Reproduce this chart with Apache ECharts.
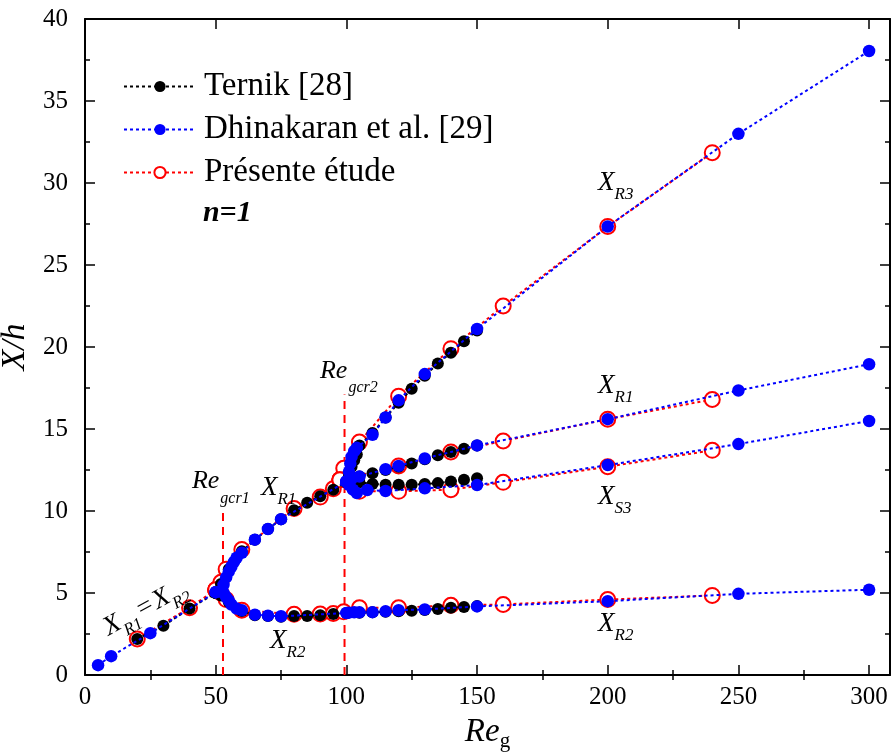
<!DOCTYPE html>
<html><head><meta charset="utf-8">
<script src="https://cdn.jsdelivr.net/npm/echarts@6/dist/echarts.min.js"></script>
<style>html,body{margin:0;padding:0;background:#fff}#c{width:896px;height:753px}</style>
</head><body><div id="c"></div>
<script>
// ---------- tick labels ----------
const X_MAJOR = [0, 50, 100, 150, 200, 250, 300];
const X_MINOR = [25, 75, 125, 175, 225, 275];

// ---------- Ternik [28] (black) ----------
const T_R12_RE = [20, 30, 40, 50];
const T_R12    = [2.2, 3.0, 4.05, 5.0];
const T_UP_RE  = [50, 52, 55, 60, 65, 70, 75, 80, 85, 90, 95, 100, 101, 102, 103, 104, 105, 110, 115, 120, 125, 130, 135, 140, 145, 150];
const T_UP     = [5.0, 5.55, 6.45, 7.55, 8.25, 8.9, 9.5, 10.05, 10.5, 10.9, 11.3, 11.75, 12.2, 12.7, 13.1, 13.45, 14.0, 14.75, 15.7, 16.6, 17.45, 18.25, 19.0, 19.65, 20.35, 21.0];
const T_MID_RE = [100, 101, 105, 110, 115, 120, 125, 130, 135, 140, 145, 150];
const T_MID    = [11.75, 11.95, 12.1, 12.3, 12.5, 12.7, 12.9, 13.15, 13.4, 13.6, 13.8, 14.0];
const T_S3_RE  = [100, 102, 105, 110, 115, 120, 125, 130, 135, 140, 145, 150];
const T_S3     = [11.75, 11.85, 11.75, 11.65, 11.6, 11.6, 11.6, 11.65, 11.7, 11.8, 11.9, 12.0];
const T_R2_RE  = [50, 52, 55, 60, 65, 70, 75, 80, 85, 90, 95, 100, 105, 110, 115, 120, 125, 130, 135, 140, 145, 150];
const T_R2     = [5.0, 4.85, 4.45, 3.9, 3.65, 3.6, 3.55, 3.6, 3.6, 3.65, 3.72, 3.78, 3.8, 3.82, 3.85, 3.88, 3.92, 3.97, 4.03, 4.1, 4.15, 4.2];

// ---------- Dhinakaran et al. [29] (blue) ----------
const D_R12_RE = [5, 10, 25, 50];
const D_R12    = [0.6, 1.15, 2.55, 5.05];
const D_UP_RE  = [50, 53, 54, 55, 56, 57, 58, 60, 65, 70, 75, 100, 101, 101.5, 102, 103, 104, 110, 115, 120, 130, 150, 200, 250, 300];
const D_UP     = [5.05, 5.5, 5.95, 6.3, 6.6, 6.9, 7.15, 7.45, 8.25, 8.9, 9.5, 11.8, 12.4, 12.9, 13.3, 13.65, 13.85, 14.65, 15.7, 16.75, 18.35, 21.1, 27.35, 33.0, 38.05];
const D_MID_RE = [100, 102, 105, 115, 120, 130, 150, 200, 250, 300];
const D_MID    = [11.8, 11.95, 12.1, 12.55, 12.75, 13.2, 14.0, 15.6, 17.35, 18.95];
const D_S3_RE  = [100, 101, 102.5, 104, 108, 115, 130, 150, 200, 250, 300];
const D_S3     = [11.8, 11.6, 11.3, 11.1, 11.28, 11.22, 11.38, 11.58, 12.8, 14.08, 15.49];
const D_R2_RE  = [50, 53, 54, 55, 56, 58, 60, 65, 70, 75, 100, 101, 103, 105, 110, 115, 120, 130, 150, 200, 250, 300];
const D_R2     = [5.05, 5.0, 4.75, 4.55, 4.3, 4.05, 3.95, 3.68, 3.62, 3.58, 3.78, 3.8, 3.82, 3.82, 3.83, 3.88, 3.95, 4.0, 4.18, 4.5, 4.95, 5.2];

// ---------- Présente étude (red) ----------
const R_R12_RE = [20, 40, 50];
const R_R12    = [2.2, 4.1, 5.2];
const R_UP_RE  = [50, 52, 54, 60, 80, 90, 95, 97.5, 99, 105, 120, 140, 160, 200, 240];
const R_UP     = [5.2, 5.65, 6.45, 7.65, 10.15, 10.85, 11.35, 11.9, 12.6, 14.2, 17.0, 19.9, 22.5, 27.35, 31.85];
const R_MID_RE = [97.5, 120, 140, 160, 200, 240];
const R_MID    = [11.9, 12.75, 13.6, 14.27, 15.6, 16.8];
const R_S3_RE  = [97.5, 105, 120, 140, 160, 200, 240];
const R_S3     = [11.9, 11.2, 11.2, 11.3, 11.75, 12.7, 13.7];
const R_R2_RE  = [50, 52, 54, 60, 80, 90, 95, 99, 105, 120, 140, 160, 200, 240];
const R_R2     = [5.2, 5.0, 4.6, 3.95, 3.7, 3.72, 3.75, 3.85, 4.1, 4.1, 4.25, 4.3, 4.6, 4.85];

// ---------- critical Reynolds numbers (dashed) ----------
const GCR_RE  = [52.8, 99.3];
const GCR_TOP = [10.2, 17.1];

const FONT = '"Liberation Serif", "Times New Roman", serif';
const pts = (re, x) => re.map((r, i) => [r, x[i]]);

const STY = {
  T: { name: 'Ternik [28]', color: '#000000', fill: '#000000', size: 12, z: 3, bw: 0 },
  D: { name: 'Dhinakaran et al. [29]', color: '#0000ff', fill: '#0000ff', size: 12.5, z: 4, bw: 0 },
  R: { name: 'Présente étude', color: '#ff0000', fill: '#ffffff', size: 15, z: 2, bw: 2 }
};
function branch(key, re, x) {
  const s = STY[key];
  return {
    type: 'line', name: s.name, data: pts(re, x), symbol: 'circle', symbolSize: s.size,
    showAllSymbol: true, z: s.z, animation: false, emphasis: { disabled: true },
    lineStyle: { color: s.color, width: 2, type: [3, 3] },
    itemStyle: { color: s.fill, borderColor: s.color, borderWidth: s.bw }
  };
}
const series = [
  ...GCR_RE.map((g, i) => ({
    type: 'line', name: 'gcr' + i, data: [[g, 0], [g, GCR_TOP[i]]], symbol: 'none', z: 1,
    silent: true, animation: false, lineStyle: { color: '#ff0000', width: 2, type: [8, 6] }
  })),
  branch('R', R_R12_RE, R_R12), branch('R', R_UP_RE, R_UP), branch('R', R_MID_RE, R_MID),
  branch('R', R_S3_RE, R_S3), branch('R', R_R2_RE, R_R2),
  branch('T', T_R12_RE, T_R12), branch('T', T_UP_RE, T_UP), branch('T', T_MID_RE, T_MID),
  branch('T', T_S3_RE, T_S3), branch('T', T_R2_RE, T_R2),
  branch('D', D_R12_RE, D_R12), branch('D', D_UP_RE, D_UP), branch('D', D_MID_RE, D_MID),
  branch('D', D_S3_RE, D_S3), branch('D', D_R2_RE, D_R2)
];

const AX_LINE = { show: true, onZero: false, lineStyle: { color: '#000', width: 2 } };
const TICK_LS = { color: '#000', width: 1.5 };
function xAx(pos, vals, len, line, label) {
  return {
    type: 'value', min: 0, max: 308, interval: 50, position: pos,
    axisLine: line ? AX_LINE : { show: false },
    axisTick: { show: true, inside: true, length: len, customValues: vals, lineStyle: TICK_LS },
    axisLabel: label ? { show: true, customValues: vals, fontSize: 25, fontFamily: FONT, color: '#000', margin: 10 } : { show: false },
    splitLine: { show: false }
  };
}
const xAxes = [
  Object.assign(xAx('bottom', X_MAJOR, 10, true, true), {
    name: '{a|Re}{b|g}', nameLocation: 'middle', nameGap: 37,
    nameTextStyle: { rich: {
      a: { fontSize: 33, fontStyle: 'italic', fontFamily: FONT, color: '#000', lineHeight: 40 },
      b: { fontSize: 21, fontFamily: FONT, color: '#000', lineHeight: 20, verticalAlign: 'bottom' }
    } }
  }),
  xAx('bottom', X_MINOR, 5, false, false),
  xAx('top', X_MAJOR, 10, true, false),
  xAx('top', X_MINOR, 5, false, false)
];
function yAx(pos, label) {
  return {
    type: 'value', min: 0, max: 40, interval: 5, position: pos,
    axisLine: AX_LINE,
    axisTick: { show: true, inside: true, length: 10, lineStyle: TICK_LS },
    minorTick: { show: true, splitNumber: 2, length: 5, lineStyle: TICK_LS },
    axisLabel: label ? { fontSize: 25, fontFamily: FONT, color: '#000', margin: 17 } : { show: false },
    splitLine: { show: false }, minorSplitLine: { show: false }
  };
}
const yAxes = [
  Object.assign(yAx('left', true), {
    name: 'X/h', nameLocation: 'middle', nameGap: 38, nameRotate: 90,
    nameTextStyle: { fontSize: 34, fontStyle: 'italic', fontFamily: FONT, color: '#000' }
  }),
  yAx('right', false)
];
series.forEach(s => { s.xAxisIndex = 0; s.yAxisIndex = 0; });

const chart = echarts.init(document.getElementById('c'), null, { renderer: 'canvas' });
chart.setOption({
  backgroundColor: '#fff',
  animation: false,
  grid: { left: 85, right: 6, top: 19, bottom: 78, containLabel: false, outerBoundsMode: 'none' },
  xAxis: xAxes,
  yAxis: yAxes,
  legend: {
    data: [STY.T.name, STY.D.name, STY.R.name],
    orient: 'vertical', left: 118, top: 65, itemWidth: 72, itemHeight: 14, itemGap: 10,
    selectedMode: false,
    textStyle: { fontSize: 33, fontFamily: FONT, color: '#000', padding: [0, 0, 0, 3] }
  },
  series: series
});

// ---------- annotations (anchored in data coordinates) ----------
const ANNOT = [
  { m: 'X', s: 'R3', re: 196.3, x: 30.0 },
  { m: 'X', s: 'R1', re: 196.3, x: 17.6 },
  { m: 'X', s: 'S3', re: 196.3, x: 10.85 },
  { m: 'X', s: 'R2', re: 196.3, x: 3.1 },
  { m: 'X', s: 'R2', re: 70.8, x: 2.05 },
  { m: 'X', s: 'R1', re: 67.3, x: 11.4 }
];
const RE_ANNOT = [
  { s: 'gcr1', re: 40.9, x: 11.8 },
  { s: 'gcr2', re: 89.9, x: 18.55 }
];
const toPx = (re, x) => chart.convertToPixel({ seriesIndex: 0 }, [re, x]);
const richX = {
  m: { fontSize: 27, fontStyle: 'italic', fontFamily: FONT, fill: '#000', lineHeight: 40 },
  s: { fontSize: 17, fontStyle: 'italic', fontFamily: FONT, fill: '#000', lineHeight: 17, verticalAlign: 'bottom' },
  e: { fontSize: 27, fontStyle: 'italic', fontFamily: FONT, fill: '#000', lineHeight: 40, padding: [0, 1, 0, 1] }
};
const richRe = {
  m: { fontSize: 26, fontStyle: 'italic', fontFamily: FONT, fill: '#000', lineHeight: 50 },
  s: { fontSize: 16, fontStyle: 'italic', fontFamily: FONT, fill: '#000', lineHeight: 18, verticalAlign: 'bottom', padding: [0, 0, 0, 1] }
};
const graphics = [];
ANNOT.forEach(a => {
  const p = toPx(a.re, a.x);
  graphics.push({ type: 'text', x: p[0], y: p[1], z: 10,
    style: { text: '{m|' + a.m + '}{s|' + a.s + '}', rich: richX, align: 'left', verticalAlign: 'middle' } });
});
RE_ANNOT.forEach(a => {
  const p = toPx(a.re, a.x);
  graphics.push({ type: 'text', x: p[0], y: p[1], z: 10,
    style: { text: '{m|Re}{s|' + a.s + '}', rich: richRe, align: 'left', verticalAlign: 'middle' } });
});
// X_R1 = X_R2 along the common branch
const pEq = toPx(23.0, 4.1);
graphics.push({ type: 'text', x: pEq[0], y: pEq[1], rotation: 0.5, z: 10,
  style: { text: '{m|X}{s|R1}{e|=}{m|X}{s|R2}', rich: richX, align: 'center', verticalAlign: 'middle' } });
// n=1
const pN = toPx(45.1, 28.15);
graphics.push({ type: 'text', x: pN[0], y: pN[1], z: 10,
  style: { text: 'n=1', fontSize: 30, fontWeight: 'bold', fontStyle: 'italic', fontFamily: FONT, fill: '#000', align: 'left', verticalAlign: 'middle' } });

chart.setOption({ graphic: graphics });
</script></body></html>
